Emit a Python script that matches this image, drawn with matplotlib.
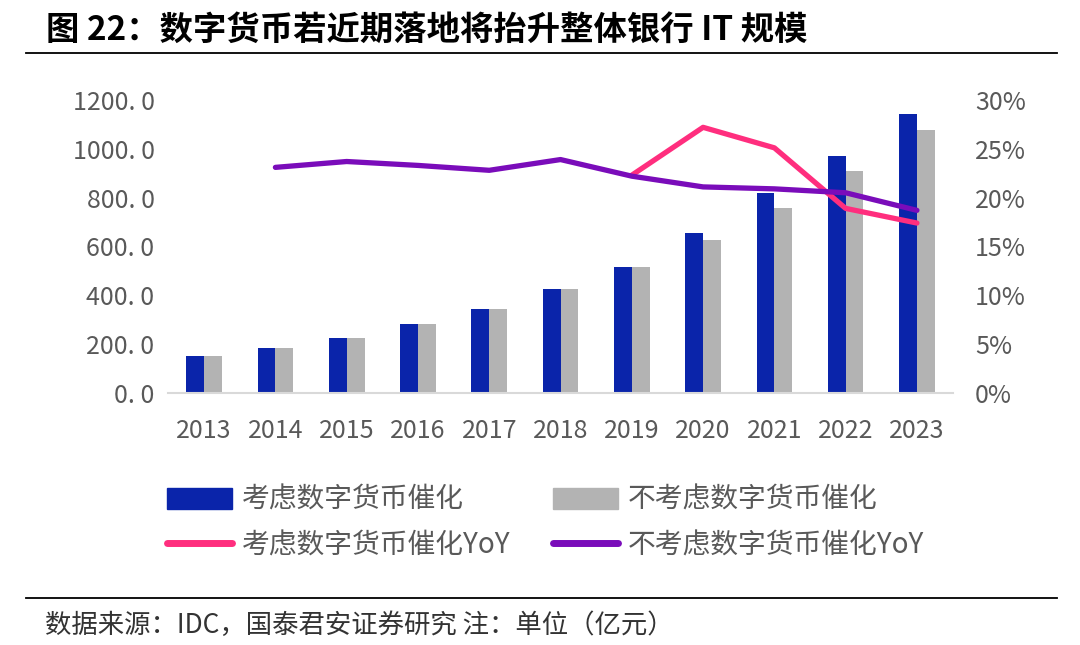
import matplotlib.pyplot as plt
import numpy as np
from matplotlib.patches import Patch
from matplotlib.lines import Line2D

plt.rcParams["font.family"] = ["Noto Sans CJK SC", "DejaVu Sans"]

# 数据
years = ["2013", "2014", "2015", "2016", "2017", "2018", "2019", "2020", "2021", "2022", "2023"]
with_dc = [151, 185, 226, 281, 343, 425, 517, 656, 820, 972, 1141]      # 考虑数字货币催化
without_dc = [151, 185, 226, 281, 343, 425, 517, 627, 756, 910, 1077]   # 不考虑数字货币催化
yoy_with = [None, None, None, None, None, None, 22.3, 27.2, 25.1, 18.9, 17.4]
yoy_without = [None, 23.1, 23.7, 23.3, 22.8, 23.9, 22.2, 21.1, 20.9, 20.5, 18.7]

left_ticks = [0, 200, 400, 600, 800, 1000, 1200]
left_labels = ["0. 0", "200. 0", "400. 0", "600. 0", "800. 0", "1000. 0", "1200. 0"]
right_ticks = [0, 5, 10, 15, 20, 25, 30]
right_labels = ["0%", "5%", "10%", "15%", "20%", "25%", "30%"]

c_blue = "#0A24AA"
c_gray = "#B3B3B3"
c_pink = "#FF2E7E"
c_purple = "#7A0CBA"
c_text = "#595959"

fig = plt.figure(figsize=(10.8, 6.45), dpi=100)
ax1 = fig.add_axes([0.156, 0.3907, 0.726, 0.4543])

x = np.arange(len(years))
w = 0.25
ax1.bar(x - w/2, with_dc, w, color=c_blue, zorder=2)
ax1.bar(x + w/2, without_dc, w, color=c_gray, zorder=2)
ax1.set_xlim(-0.5, 10.5)
ax1.set_ylim(0, 1200)
ax1.set_yticks(left_ticks)
ax1.set_yticklabels(left_labels)
ax1.set_xticks(x)
ax1.set_xticklabels(years)
ax1.tick_params(axis="both", length=0, labelsize=18, colors=c_text)
ax1.tick_params(axis="y", pad=10)
ax1.tick_params(axis="x", pad=18)
for s in ["top", "right", "left"]:
    ax1.spines[s].set_visible(False)
ax1.spines["bottom"].set_color("#D9D9D9")
ax1.spines["bottom"].set_linewidth(1.5)

# 右轴 YoY
ax2 = ax1.twinx()
yw = np.array([np.nan if v is None else v for v in yoy_with], dtype=float)
yo = np.array([np.nan if v is None else v for v in yoy_without], dtype=float)
ax2.plot(x, yw, color=c_pink, lw=3.8, solid_capstyle="round", solid_joinstyle="round", zorder=3)
ax2.plot(x, yo, color=c_purple, lw=3.8, solid_capstyle="round", solid_joinstyle="round", zorder=4)
ax2.set_ylim(0, 30)
ax2.set_yticks(right_ticks)
ax2.set_yticklabels(right_labels)
ax2.tick_params(axis="y", length=0, labelsize=18, colors=c_text, pad=16)
for s in ["top", "right", "left", "bottom"]:
    ax2.spines[s].set_visible(False)

# 图例
handles = [
    Patch(color=c_blue),
    Line2D([0], [0], color=c_pink, lw=5, solid_capstyle="round"),
    Patch(color=c_gray),
    Line2D([0], [0], color=c_purple, lw=5, solid_capstyle="round"),
]
labels = ["考虑数字货币催化", "考虑数字货币催化YoY", "不考虑数字货币催化", "不考虑数字货币催化YoY"]
leg = fig.legend(handles, labels, loc="upper left", bbox_to_anchor=(0.1546, 0.248),
                 ncol=2, frameon=False, fontsize=20, handlelength=2.35, handleheight=0.75,
                 handletextpad=0.35, columnspacing=1.52, labelspacing=0.55, borderpad=0,
                 borderaxespad=0)
for t in leg.get_texts():
    t.set_color(c_text)

# 标题与来源
fig.text(0.043, 0.953, "图 22：数字货币若近期落地将抬升整体银行 IT 规模",
         fontsize=24, fontweight="bold", color="black", va="center", ha="left")
fig.add_artist(Line2D([26/1080, 1057/1080], [1-53/645, 1-53/645], color="black", lw=1.3))
fig.add_artist(Line2D([26/1080, 1057/1080], [1-598/645, 1-598/645], color="black", lw=1.3))
fig.text(0.042, 1-625/645, "数据来源：IDC，国泰君安证券研究 注：单位（亿元）",
         fontsize=19, color="#333333", va="center", ha="left")

plt.savefig("out.png", dpi=100)
